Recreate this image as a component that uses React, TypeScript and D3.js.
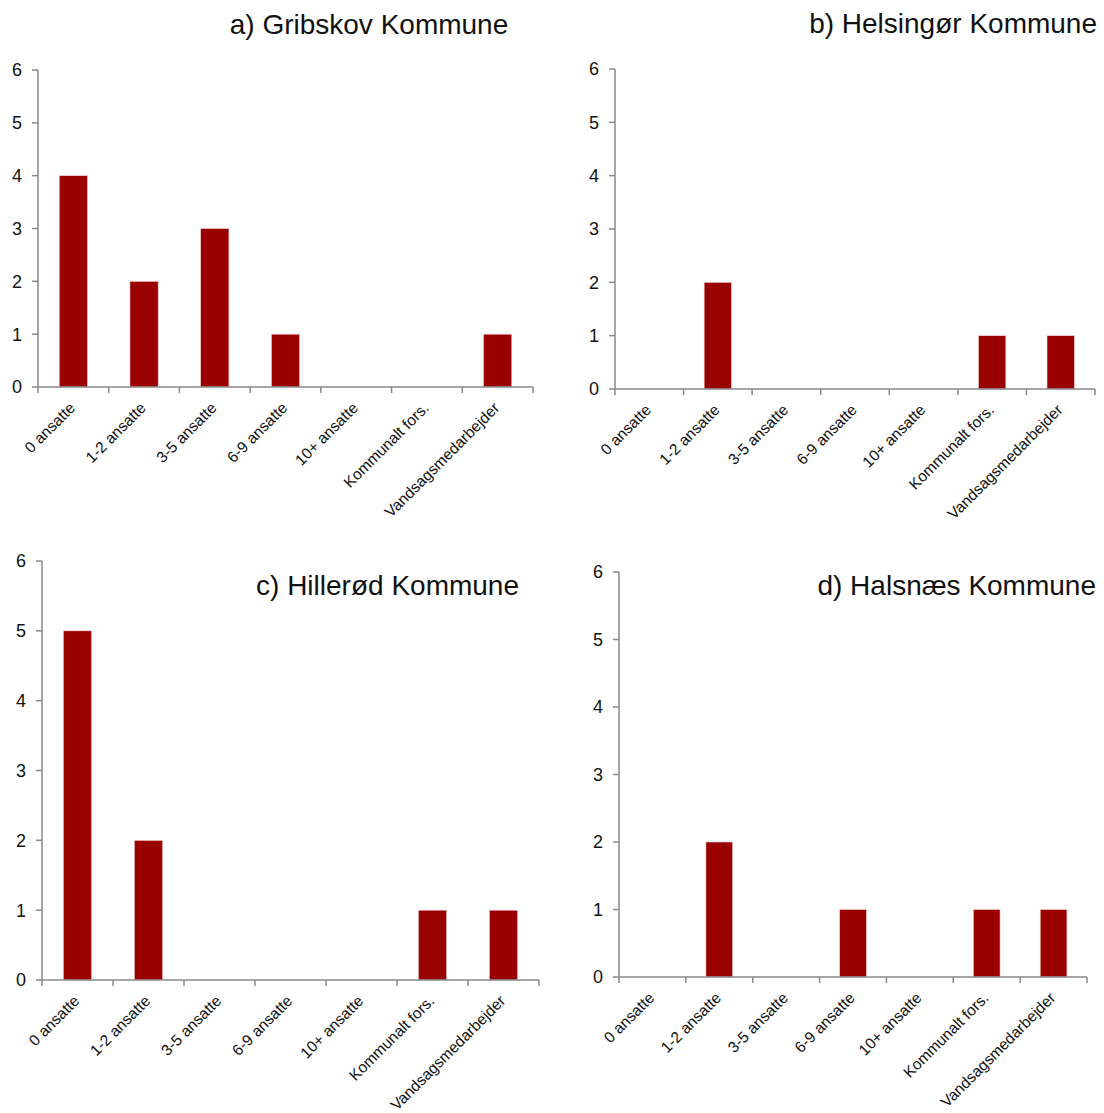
import { useEffect, useRef } from 'react'
import * as d3 from 'd3'

// Categories on the x axis (shared by all four panels)
const CATEGORIES = [
  '0 ansatte',
  '1-2 ansatte',
  '3-5 ansatte',
  '6-9 ansatte',
  '10+ ansatte',
  'Kommunalt fors.',
  'Vandsagsmedarbejder',
]

// Counts per municipality
const GRIBSKOV = [4, 2, 3, 1, 0, 0, 1]
const HELSINGOR = [0, 2, 0, 0, 0, 1, 1]
const HILLEROD = [5, 2, 0, 0, 0, 1, 1]
const HALSNAES = [0, 2, 0, 1, 0, 1, 1]

const TITLES = ['a) Gribskov Kommune', 'b) Helsingør Kommune', 'c) Hillerød Kommune', 'd) Halsnæs Kommune']
const Y_TICKS = [0, 1, 2, 3, 4, 5, 6]

const BAR_COLOR = '#990000'
const AXIS_COLOR = '#898989'
const FONT = 'Arial, "Liberation Sans", sans-serif'

// Layout of each panel (plot box and title placement)
const PANELS = [
  { values: GRIBSKOV, left: 38, right: 533, top: 70, bottom: 387, tx: 369, ty: 34, anchor: 'middle' },
  { values: HELSINGOR, left: 615, right: 1095, top: 69, bottom: 389, tx: 1097, ty: 33, anchor: 'end' },
  { values: HILLEROD, left: 42, right: 539, top: 561, bottom: 980, tx: 519, ty: 595, anchor: 'end' },
  { values: HALSNAES, left: 619, right: 1087, top: 572, bottom: 977, tx: 1096, ty: 595, anchor: 'end' },
]

const App = () => {
  const svgRef = useRef<SVGSVGElement>(null)

  useEffect(() => {
    if (!svgRef.current) return
    const svg = d3.select(svgRef.current)
    svg.selectAll('*').remove()

    PANELS.forEach((p, pi) => {
      const g = svg.append('g')

      const x = d3.scaleBand<string>()
        .domain(CATEGORIES)
        .range([p.left, p.right])
        .paddingInner(0)
        .paddingOuter(0)

      const y = d3.scaleLinear().domain([0, 6]).range([p.bottom, p.top])

      // bars
      const barW = x.bandwidth() * 0.4
      g.selectAll('.bar')
        .data(p.values.map((v, i) => ({ v, c: CATEGORIES[i] })).filter(d => d.v > 0))
        .enter()
        .append('rect')
        .attr('x', d => (x(d.c) as number) + (x.bandwidth() - barW) / 2)
        .attr('y', d => y(d.v))
        .attr('width', barW)
        .attr('height', d => y(0) - y(d.v))
        .attr('fill', BAR_COLOR)
        .attr('stroke', '#f3dada')
        .attr('stroke-width', 0.6)

      // y axis
      g.append('line')
        .attr('x1', p.left).attr('x2', p.left)
        .attr('y1', p.top).attr('y2', p.bottom)
        .attr('stroke', AXIS_COLOR).attr('stroke-width', 1.5)
      Y_TICKS.forEach(t => {
        g.append('line')
          .attr('x1', p.left - 6).attr('x2', p.left)
          .attr('y1', y(t)).attr('y2', y(t))
          .attr('stroke', AXIS_COLOR).attr('stroke-width', 1.5)
        g.append('text')
          .attr('x', p.left - 16)
          .attr('y', y(t))
          .attr('dy', '0.36em')
          .attr('text-anchor', 'end')
          .attr('font-family', FONT)
          .attr('font-size', 18)
          .attr('fill', '#111')
          .text(t)
      })

      // x axis
      g.append('line')
        .attr('x1', p.left).attr('x2', p.right)
        .attr('y1', p.bottom).attr('y2', p.bottom)
        .attr('stroke', AXIS_COLOR).attr('stroke-width', 1.5)
      CATEGORIES.forEach(c => {
        const bx = x(c) as number
        g.append('line')
          .attr('x1', bx).attr('x2', bx)
          .attr('y1', p.bottom).attr('y2', p.bottom + 6)
          .attr('stroke', AXIS_COLOR).attr('stroke-width', 1.5)
        const cx = bx + x.bandwidth() / 2
        g.append('text')
          .attr('transform', `translate(${cx - 1}, ${p.bottom + 18}) rotate(-45)`)
          .attr('text-anchor', 'end')
          .attr('dy', '0.35em')
          .attr('font-family', FONT)
          .attr('font-size', 15.5)
          .attr('fill', '#111')
          .text(c)
      })
      g.append('line')
        .attr('x1', p.right).attr('x2', p.right)
        .attr('y1', p.bottom).attr('y2', p.bottom + 6)
        .attr('stroke', AXIS_COLOR).attr('stroke-width', 1.5)

      // title
      g.append('text')
        .attr('x', p.tx)
        .attr('y', p.ty)
        .attr('text-anchor', p.anchor)
        .attr('font-family', FONT)
        .attr('font-size', 28)
        .attr('fill', '#111')
        .text(TITLES[pi])
    })
  }, [])

  return (
    <svg
      ref={svgRef}
      width={1104}
      height={1113}
      style={{ position: 'absolute', left: 0, top: 0, background: '#fff' }}
    ></svg>
  )
}

export default App
